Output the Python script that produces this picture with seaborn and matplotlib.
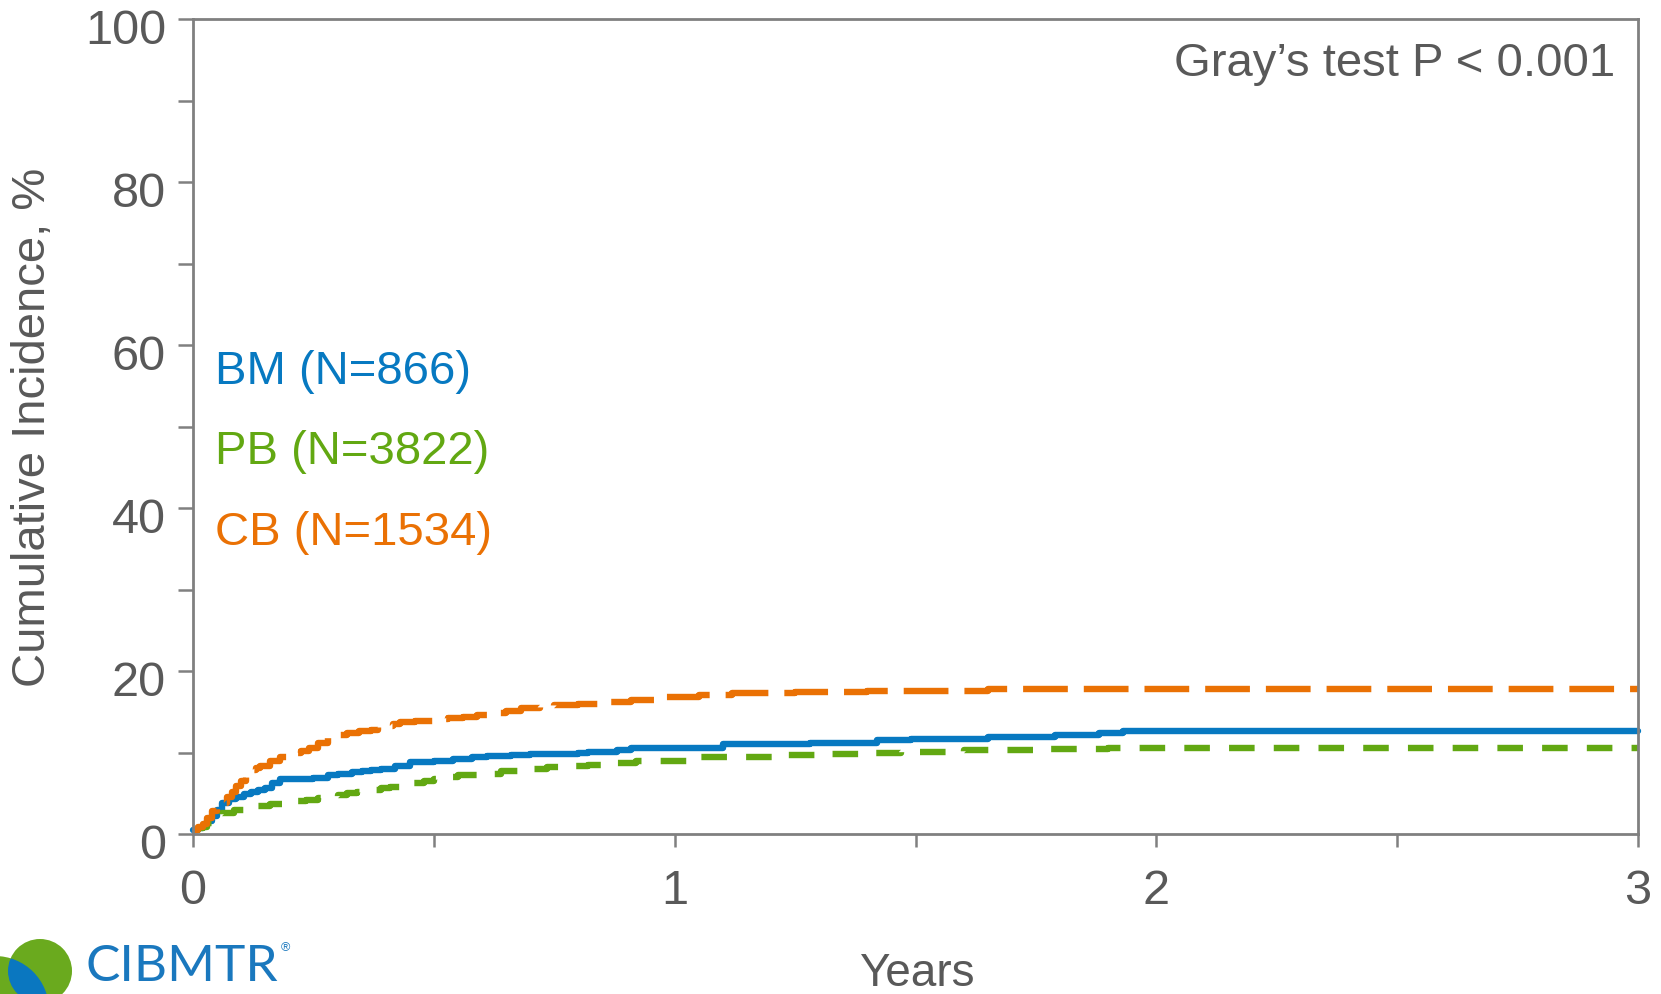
import numpy as np
import pandas as pd
import matplotlib
matplotlib.use("Agg")
import matplotlib.pyplot as plt
import matplotlib.transforms as mtrans
import seaborn as sns
from matplotlib.patches import Circle

# ---------------- data (years, cumulative incidence %) ----------------
bm_t = [0, 0.01, 0.02, 0.03, 0.04, 0.05, 0.06, 0.075, 0.09, 0.105, 0.12, 0.135, 0.15, 0.165,
        0.18, 0.22, 0.25, 0.28, 0.30, 0.33, 0.35, 0.37, 0.39, 0.42, 0.45, 0.50, 0.54, 0.58,
        0.61, 0.66, 0.70, 0.80, 0.82, 0.88, 0.91, 1.00, 1.10, 1.28, 1.42, 1.49, 1.65, 1.79,
        1.88, 1.93, 3.0]
bm_y = [0.5, 0.7, 1.0, 1.6, 2.2, 3.0, 3.8, 4.3, 4.6, 4.9, 5.1, 5.4, 5.7, 6.2,
        6.7, 6.8, 6.9, 7.2, 7.4, 7.6, 7.7, 7.9, 8.0, 8.4, 8.8, 9.0, 9.2, 9.4,
        9.6, 9.7, 9.8, 9.9, 10.1, 10.3, 10.5, 10.6, 11.0, 11.2, 11.5, 11.7, 11.9, 12.2,
        12.4, 12.6, 12.6]

cb_t = [0, 0.01, 0.02, 0.03, 0.04, 0.05, 0.06, 0.07, 0.08, 0.09, 0.10, 0.11, 0.12, 0.13,
        0.14, 0.16, 0.18, 0.195, 0.21, 0.225, 0.24, 0.26, 0.28, 0.30, 0.32, 0.345, 0.37,
        0.385, 0.40, 0.415, 0.43, 0.46, 0.50, 0.53, 0.56, 0.59, 0.62, 0.65, 0.68, 0.72,
        0.75, 0.80, 0.85, 0.91, 0.98, 1.05, 1.12, 1.25, 1.40, 1.55, 1.65, 3.0]
cb_y = [0.5, 0.8, 1.2, 2.0, 2.8, 3.3, 3.8, 4.5, 5.2, 5.9, 6.5, 7.2, 7.8, 8.1,
        8.4, 8.9, 9.4, 9.6, 9.9, 10.2, 10.6, 11.2, 11.9, 12.2, 12.4, 12.6, 12.8,
        13.1, 13.3, 13.5, 13.8, 13.9, 14.1, 14.2, 14.4, 14.6, 14.8, 15.1, 15.5, 15.7,
        15.8, 16.0, 16.2, 16.5, 16.8, 17.0, 17.3, 17.4, 17.5, 17.6, 17.8, 17.8]

pb_t = [0, 0.01, 0.02, 0.03, 0.04, 0.05, 0.06, 0.085, 0.11, 0.135, 0.16, 0.185, 0.21, 0.235,
        0.26, 0.28, 0.30, 0.32, 0.34, 0.365, 0.39, 0.41, 0.43, 0.455, 0.48, 0.50, 0.51,
        0.55, 0.59, 0.64, 0.69, 0.735, 0.78, 0.82, 0.87, 0.92, 0.97, 1.04, 1.22, 1.30, 1.40,
        1.47, 1.60, 1.75, 1.90, 3.0]
pb_y = [0.5, 0.7, 0.9, 1.3, 1.8, 2.2, 2.6, 2.9, 3.1, 3.4, 3.7, 3.9, 4.0, 4.2,
        4.4, 4.6, 4.8, 5.0, 5.2, 5.4, 5.6, 5.8, 6.0, 6.2, 6.5, 6.8, 7.0,
        7.2, 7.4, 7.7, 8.0, 8.2, 8.3, 8.5, 8.7, 8.9, 9.0, 9.4, 9.7, 9.8, 10.0,
        10.1, 10.3, 10.4, 10.5, 10.5]

group_labels = ["BM (N=866)", "PB (N=3822)", "CB (N=1534)"]
y_ticks = [0, 20, 40, 60, 80, 100]
x_ticks = [0, 1, 2, 3]
title_text = "Gray\u2019s test P < 0.001"
x_label = "Years"
y_label = "Cumulative Incidence, %"

# ---------------- style ----------------
BLUE = "#0779C1"
GREEN = "#62A812"
ORANGE = "#EA7104"
GRAY_TXT = "#595959"
GRAY_AX = "#808080"

sns.set_theme(style="white")
plt.rcParams["font.family"] = ["Liberation Sans", "DejaVu Sans"]

W, H = 1661, 994
fig = plt.figure(figsize=(W / 100, H / 100), dpi=100)
ax = fig.add_axes([193 / W, 1 - 834 / H, (1638 - 193) / W, (834 - 19) / H])

series = [
    (bm_t, bm_y, BLUE, None),
    (pb_t, pb_y, GREEN, (4.0, 3.0)),
    (cb_t, cb_y, ORANGE, (7.0, 2.5)),
]
for t, y, col, dash in series:
    df = pd.DataFrame({"t": t, "y": y})
    sns.lineplot(data=df, x="t", y="y", ax=ax, color=col, linewidth=4.6,
                 drawstyle="steps-post", estimator=None, sort=False, clip_on=False)
    line = ax.lines[-1]
    if dash is not None:
        line.set_dashes(dash)
        line.set_dash_capstyle("butt")

ax.set_xlim(0, 3)
ax.set_ylim(0, 100)
ax.set_xticks(x_ticks)
ax.set_xticks([0.5, 1.5, 2.5], minor=True)
ax.set_xticklabels([str(v) for v in x_ticks])
ax.set_yticks(y_ticks)
ax.set_yticks([10, 30, 50, 70, 90], minor=True)
ax.set_yticklabels([str(v) for v in y_ticks])
ax.set_xlabel("")
ax.set_ylabel("")

for s in ax.spines.values():
    s.set_color(GRAY_AX)
    s.set_linewidth(2.0)

ax.tick_params(axis="y", which="both", direction="out", length=10.5, width=1.8,
               color=GRAY_AX, left=True, labelsize=35, labelcolor=GRAY_TXT, pad=9)
ax.tick_params(axis="x", which="both", direction="out", length=9.5, width=1.8,
               color=GRAY_AX, bottom=True, labelsize=35, labelcolor=GRAY_TXT, pad=16)

# reference tick labels sit slightly below their ticks
off = mtrans.ScaledTranslation(0, -5.3 / 72, fig.dpi_scale_trans)
for lbl in ax.get_yticklabels():
    lbl.set_transform(lbl.get_transform() + off)

# group labels
for lab, col, ypx in zip(group_labels, [BLUE, GREEN, ORANGE], [372, 452, 533]):
    fig.text(215 / W, 1 - ypx / H, lab, color=col, fontsize=34, ha="left", va="center")

fig.text(1615 / W, 1 - 64 / H, title_text, color=GRAY_TXT, fontsize=34,
         ha="right", va="center")

fig.text(917 / W, 1 - 974 / H, x_label, color=GRAY_TXT, fontsize=33,
         ha="center", va="center")

fig.text(33 / W, 1 - 427 / H, y_label, color=GRAY_TXT, fontsize=34, rotation=90,
         ha="center", va="center")

# ---------------- logo ----------------
lax = fig.add_axes([0, 0, 80 / W, 70 / H])
lax.set_xlim(0, 80)
lax.set_ylim(0, 70)
lax.axis("off")
big = Circle((40, 23), 32, color="#6AAA1E", lw=0)
small = Circle((-5, -16), 54, color="#6AAA1E", lw=0)
lax.add_patch(small)
lax.add_patch(big)
lens = Circle((-5, -16), 54, color="#0A77C0", lw=0)
lax.add_patch(lens)
lens.set_clip_path(big)

fig.text(86 / W, 1 - 981 / H, "CIBMTR", color="#1A78BE", fontsize=37,
         family=["Lato", "DejaVu Sans"], ha="left", va="baseline")
fig.text(285 / W, 1 - 948 / H, "\u00ae", color="#1A78BE", fontsize=9,
         ha="center", va="center")

fig.savefig("out.png", dpi=100)
